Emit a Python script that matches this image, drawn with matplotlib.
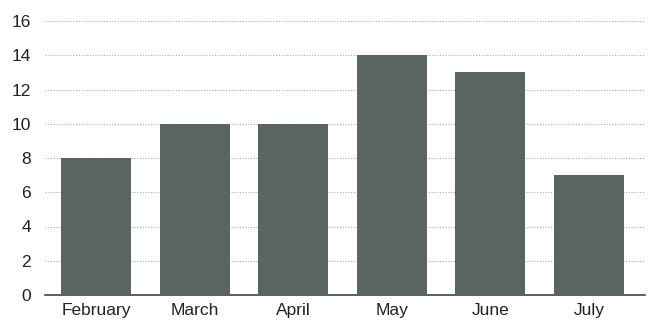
import matplotlib
matplotlib.use("Agg")
import matplotlib.pyplot as plt

# monthly values
months = ["February", "March", "April", "May", "June", "July"]
values = [8, 10, 10, 14, 13, 7]
yticks = [0, 2, 4, 6, 8, 10, 12, 14, 16]

plt.rcParams['font.family'] = ['Liberation Sans', 'DejaVu Sans']

fig = plt.figure(figsize=(6.6, 3.33), dpi=100)
ax = fig.add_axes([45 / 660, 38 / 333, 600 / 660, 274 / 333])

ax.bar(range(len(months)), values, width=0.71, color="#5a6563", zorder=3)

ax.set_xlim(-0.52, 5.57)
ax.set_ylim(0, 16)
ax.set_yticks(yticks)
ax.set_xticks(range(len(months)))
ax.set_xticklabels(months)

# dotted grid lines
ax.yaxis.grid(True, linestyle=(0, (1, 1.5)), color="#aaaaaa", linewidth=0.8, zorder=0)
ax.set_axisbelow(True)

for side in ["top", "right", "left"]:
    ax.spines[side].set_visible(False)
ax.spines["bottom"].set_color("#444444")
ax.spines["bottom"].set_linewidth(1.2)

ax.tick_params(axis="both", length=0, labelsize=12.5, colors="#222222")
ax.tick_params(axis="y", pad=10)
ax.tick_params(axis="x", pad=6)

plt.savefig("out.png")
